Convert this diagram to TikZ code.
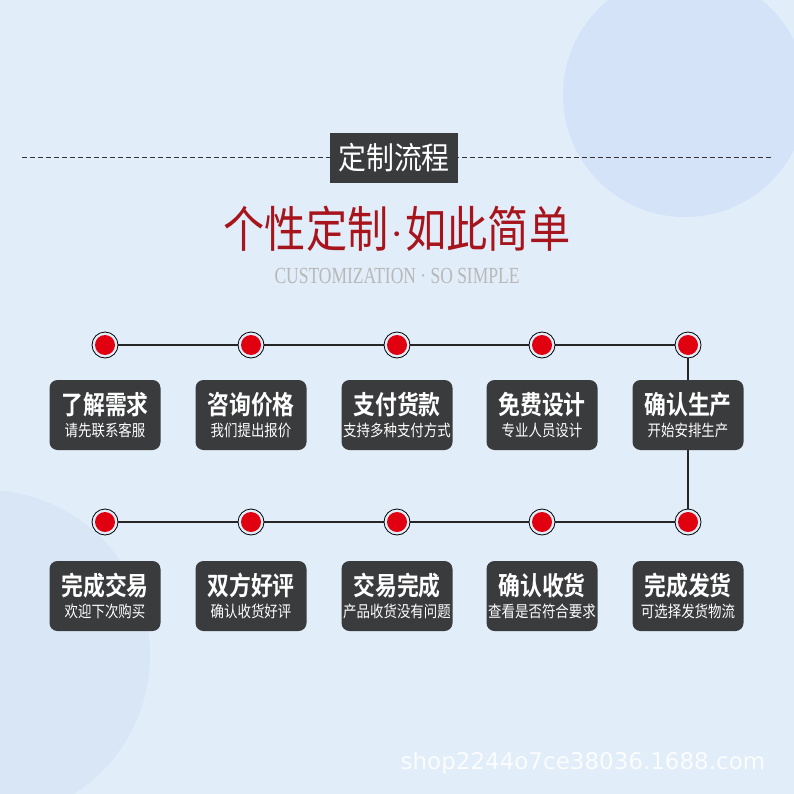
\documentclass[tikz,border=0pt]{standalone}
\usepackage{fontspec}
\newfontfamily\cjk{Noto Sans CJK SC}
\newfontfamily\cjkb{Noto Sans CJK SC Bold}
\newfontfamily\serifl{Liberation Serif}
\newfontfamily\sansl{DejaVu Sans}
\definecolor{bg}{HTML}{E1EDF9}
\definecolor{blob}{HTML}{D4E3F8}
\definecolor{blob2}{HTML}{D9E6F6}
\definecolor{boxc}{HTML}{3A3B3D}
\definecolor{titred}{HTML}{A8141C}
\definecolor{dotred}{HTML}{E00010}
\tikzset{
  stepbox/.style={draw=none, fill=boxc, rounded corners=8pt, minimum width=111pt, minimum height=70pt, align=center, text=white, inner sep=0pt},
  dotout/.style={circle, draw=black, line width=0.8pt, fill=bg, minimum size=26pt, inner sep=0pt},
  dotin/.style={circle, fill=dotred, minimum size=20pt, inner sep=0pt},
  link/.style={draw=black!85, line width=1.1pt}
}
\newcommand{\stxt}[2]{{\cjkb\addfontfeatures{FakeStretch=0.84}\fontsize{26}{27}\selectfont #1}\\[5pt]{\cjk\addfontfeatures{FakeStretch=0.84}\fontsize{16}{17}\selectfont #2}}
\begin{document}
\begin{tikzpicture}[x=1pt,y=-1pt]
\useasboundingbox (0,0) rectangle (794,794);
\fill[bg] (0,0) rectangle (794,794);
\begin{scope}
\clip (0,0) rectangle (794,794);
\fill[blob] (685,95) circle (122);
\fill[blob2] (-15,655) circle (165);
\end{scope}
% header
\coordinate (dl) at (22,158);
\coordinate (dr) at (772,158);
\draw[black!80, line width=1pt, dash pattern=on 5pt off 3pt] (dl) -- (dr);
\node[fill=boxc, text=white, minimum width=128pt, minimum height=50pt, inner sep=0pt] (hdr) at (394,158) {\cjk\addfontfeatures{FakeStretch=0.9}\fontsize{31}{32}\selectfont 定制流程};
\node[text=titred, inner sep=0pt] (title) at (397,229) {\cjk\addfontfeatures{FakeStretch=0.84}\fontsize{49}{50}\selectfont 个性定制{\serifl\addfontfeatures{FakeStretch=1}\fontsize{40}{40}\selectfont\kern2pt·\kern2pt}如此简单};
\node[text=black!28] (sub) at (397,276) {\serifl\fontsize{23}{23}\selectfont\addfontfeatures{FakeStretch=0.76} CUSTOMIZATION · SO SIMPLE};
% dots
\foreach \i/\x in {1/105,2/251,3/397,4/542,5/688}{
  \coordinate (t\i) at (\x,345);
  \coordinate (b\i) at (\x,522);
}
\draw[link] (t1) -- (t5) -- (b5) -- (b1);
\foreach \i in {1,...,5}{
  \node[dotout] (to\i) at (t\i) {};
  \node[dotin] (ti\i) at (t\i) {};
  \node[dotout] (bo\i) at (b\i) {};
  \node[dotin] (bi\i) at (b\i) {};
}
% boxes
\node[stepbox] (s1) at (105,415) {\stxt{了解需求}{请先联系客服}};
\node[stepbox] (s2) at (251,415) {\stxt{咨询价格}{我们提出报价}};
\node[stepbox] (s3) at (397,415) {\stxt{支付货款}{支持多种支付方式}};
\node[stepbox] (s4) at (542,415) {\stxt{免费设计}{专业人员设计}};
\node[stepbox] (s5) at (688,415) {\stxt{确认生产}{开始安排生产}};
\node[stepbox] (s10) at (105,596) {\stxt{完成交易}{欢迎下次购买}};
\node[stepbox] (s9) at (251,596) {\stxt{双方好评}{确认收货好评}};
\node[stepbox] (s8) at (397,596) {\stxt{交易完成}{产品收货没有问题}};
\node[stepbox] (s7) at (542,596) {\stxt{确认收货}{查看是否符合要求}};
\node[stepbox] (s6) at (688,596) {\stxt{完成发货}{可选择发货物流}};
% watermark
\node[text=white, opacity=0.85] (wm) at (583,763) {\sansl\fontsize{23}{24}\selectfont shop2244o7ce38036.1688.com};
\end{tikzpicture}
\end{document}
